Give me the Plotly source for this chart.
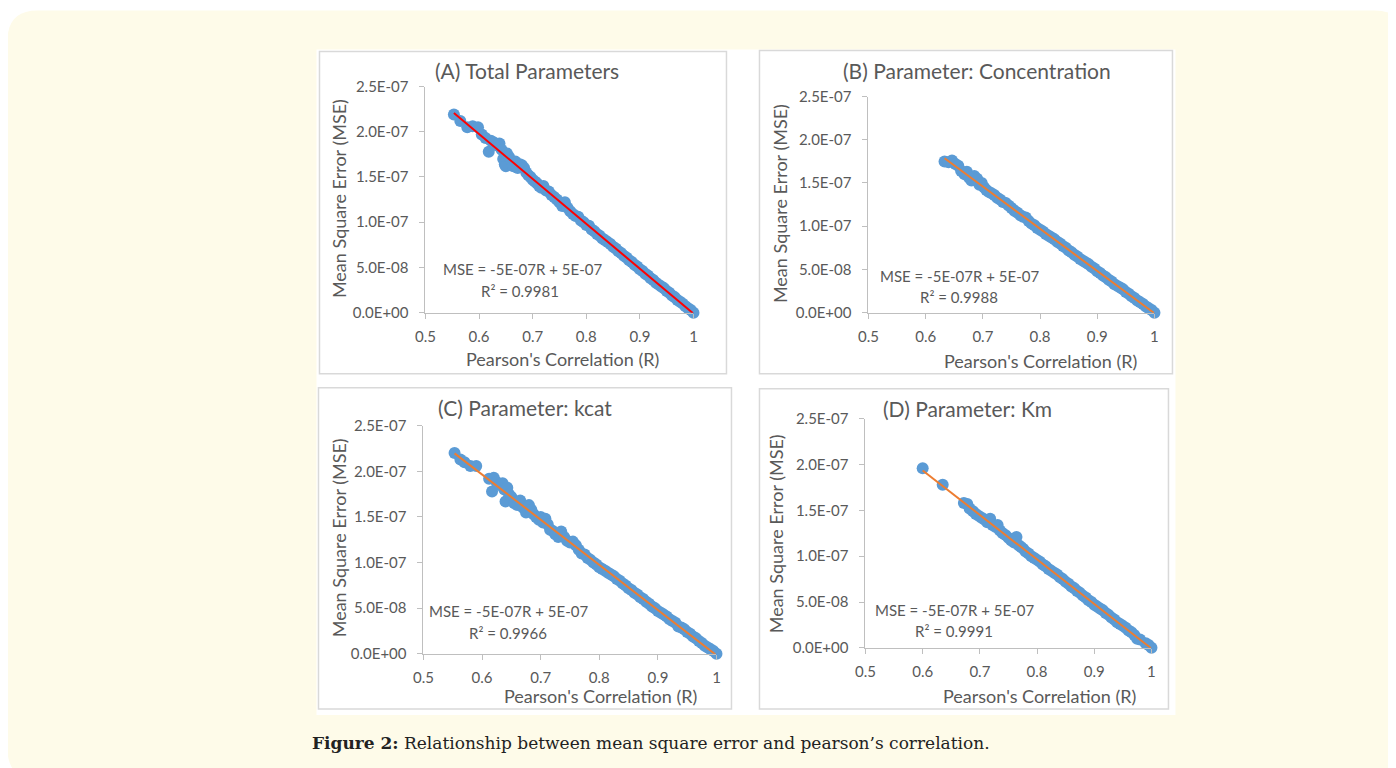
import numpy as np
import plotly.graph_objects as go

W, H = 1396, 768
# measured placement of the figure inside the photographed window (scale and offset)
SX, SY, OFF_X, OFF_Y = 0.99, 0.976, 17.5, 17.5

# ---------------- data (MSE values in units of 1e-7) ----------------
r_a = [0.553, 0.565, 0.578, 0.588, 0.598, 0.605, 0.612, 0.618, 0.622, 0.628, 0.632, 0.638, 0.642, 0.645,
       0.648, 0.650, 0.652, 0.656, 0.660, 0.664, 0.668, 0.672, 0.676, 0.680, 0.684, 0.688, 0.692, 0.696,
       0.700, 0.704, 0.708, 0.712, 0.716, 0.720, 0.725, 0.730, 0.735, 0.740, 0.745, 0.750, 0.755, 0.760,
       0.765, 0.770, 0.775, 0.780, 0.785, 0.790, 0.795, 0.800, 0.805, 0.81, 0.815, 0.82, 0.825, 0.83,
       0.835, 0.84, 0.845, 0.85, 0.855, 0.86, 0.865, 0.87, 0.875, 0.88, 0.885, 0.89, 0.895, 0.90, 0.905,
       0.91, 0.915, 0.92, 0.925, 0.93, 0.935, 0.94, 0.945, 0.95, 0.955, 0.96, 0.965, 0.97, 0.975, 0.98,
       0.985, 0.99, 0.995, 1.00]
mse_a = [2.19, 2.12, 2.05, 2.06, 2.05, 1.97, 1.93, 1.78, 1.90, 1.88, 1.85, 1.87, 1.80, 1.70,
         1.64, 1.62, 1.76, 1.72, 1.68, 1.62, 1.67, 1.60, 1.64, 1.63, 1.60, 1.55, 1.52, 1.50,
         1.47, 1.45, 1.43, 1.40, 1.38, 1.40, 1.35, 1.34, 1.30, 1.28, 1.25, 1.22, 1.18, 1.22,
         1.16, 1.12, 1.09, 1.07, 1.06, 1.02, 1.00, 0.97, 0.96, 0.92, 0.90, 0.87, 0.85, 0.82,
         0.80, 0.78, 0.76, 0.73, 0.71, 0.68, 0.66, 0.63, 0.61, 0.58, 0.56, 0.53, 0.51, 0.48, 0.46,
         0.43, 0.41, 0.38, 0.36, 0.33, 0.31, 0.29, 0.27, 0.24, 0.22, 0.19, 0.17, 0.14, 0.12, 0.10,
         0.07, 0.05, 0.03, 0.00]

r_b = [0.633, 0.640, 0.646, 0.652, 0.657, 0.662, 0.668, 0.672, 0.676, 0.680, 0.685, 0.690, 0.694, 0.698,
       0.702, 0.706, 0.710, 0.715, 0.720, 0.725, 0.730, 0.735, 0.740, 0.745, 0.750, 0.755, 0.760, 0.765,
       0.770, 0.775, 0.780, 0.785, 0.790, 0.795, 0.800, 0.805, 0.81, 0.815, 0.82, 0.825, 0.83, 0.835,
       0.84, 0.845, 0.85, 0.855, 0.86, 0.865, 0.87, 0.875, 0.88, 0.885, 0.89, 0.895, 0.90, 0.905, 0.91,
       0.915, 0.92, 0.925, 0.93, 0.935, 0.94, 0.945, 0.95, 0.955, 0.96, 0.965, 0.97, 0.975, 0.98, 0.985,
       0.99, 0.995, 1.00]
mse_b = [1.75, 1.74, 1.76, 1.72, 1.70, 1.64, 1.60, 1.63, 1.56, 1.53, 1.58, 1.55, 1.48, 1.50,
         1.45, 1.42, 1.40, 1.38, 1.36, 1.33, 1.31, 1.28, 1.27, 1.24, 1.21, 1.18, 1.16, 1.13,
         1.11, 1.10, 1.06, 1.03, 1.01, 0.98, 0.96, 0.94, 0.91, 0.89, 0.87, 0.85, 0.82, 0.80,
         0.77, 0.75, 0.72, 0.70, 0.67, 0.65, 0.62, 0.60, 0.58, 0.56, 0.53, 0.51, 0.48, 0.46, 0.43,
         0.41, 0.38, 0.36, 0.33, 0.31, 0.29, 0.27, 0.24, 0.22, 0.19, 0.17, 0.14, 0.12, 0.10, 0.07,
         0.05, 0.03, 0.00]

r_c = [0.553, 0.563, 0.570, 0.580, 0.590, 0.612, 0.617, 0.620, 0.625, 0.630, 0.635, 0.638, 0.640, 0.643,
       0.646, 0.650, 0.655, 0.660, 0.665, 0.670, 0.675, 0.680, 0.684, 0.688, 0.692, 0.697, 0.700, 0.704,
       0.708, 0.712, 0.716, 0.720, 0.725, 0.730, 0.735, 0.740, 0.745, 0.750, 0.755, 0.760, 0.765, 0.770,
       0.775, 0.78, 0.785, 0.79, 0.795, 0.80, 0.805, 0.81, 0.815, 0.82, 0.825, 0.83, 0.835, 0.84, 0.845,
       0.85, 0.855, 0.86, 0.865, 0.87, 0.875, 0.88, 0.885, 0.89, 0.895, 0.90, 0.905, 0.91, 0.915, 0.92,
       0.925, 0.93, 0.935, 0.94, 0.945, 0.95, 0.955, 0.96, 0.965, 0.97, 0.975, 0.98, 0.985, 0.99, 0.995,
       1.00]
mse_c = [2.20, 2.13, 2.10, 2.06, 2.06, 1.92, 1.78, 1.93, 1.88, 1.85, 1.87, 1.80, 1.67, 1.82,
         1.75, 1.72, 1.65, 1.63, 1.68, 1.60, 1.55, 1.63, 1.58, 1.53, 1.50, 1.47, 1.50, 1.44,
         1.48, 1.42, 1.36, 1.35, 1.31, 1.28, 1.34, 1.28, 1.24, 1.22, 1.23, 1.19, 1.14, 1.10,
         1.09, 1.05, 1.03, 1.00, 0.98, 0.95, 0.93, 0.91, 0.89, 0.87, 0.85, 0.82, 0.80, 0.77, 0.75,
         0.72, 0.70, 0.67, 0.65, 0.62, 0.60, 0.57, 0.55, 0.52, 0.50, 0.47, 0.45, 0.43, 0.41, 0.38,
         0.36, 0.34, 0.30, 0.29, 0.27, 0.24, 0.22, 0.19, 0.17, 0.14, 0.12, 0.09, 0.07, 0.05, 0.03,
         0.00]

r_d = [0.600, 0.635, 0.672, 0.678, 0.682, 0.688, 0.693, 0.698, 0.703, 0.708, 0.713, 0.718, 0.722, 0.727,
       0.731, 0.735, 0.740, 0.745, 0.750, 0.755, 0.760, 0.764, 0.768, 0.772, 0.776, 0.78, 0.785, 0.79,
       0.795, 0.80, 0.805, 0.81, 0.815, 0.82, 0.825, 0.83, 0.835, 0.84, 0.845, 0.85, 0.855, 0.86, 0.865,
       0.87, 0.875, 0.88, 0.885, 0.89, 0.895, 0.90, 0.905, 0.91, 0.915, 0.92, 0.925, 0.93, 0.935, 0.94,
       0.945, 0.95, 0.955, 0.96, 0.965, 0.97, 0.975, 0.98, 0.99, 0.995, 1.00]
mse_d = [1.96, 1.78, 1.58, 1.57, 1.52, 1.49, 1.46, 1.44, 1.42, 1.40, 1.37, 1.41, 1.34, 1.32,
         1.34, 1.28, 1.25, 1.23, 1.20, 1.17, 1.15, 1.21, 1.12, 1.10, 1.08, 1.05, 1.03, 1.00,
         0.98, 0.96, 0.94, 0.91, 0.89, 0.86, 0.84, 0.82, 0.80, 0.77, 0.75, 0.72, 0.70, 0.67, 0.65,
         0.62, 0.60, 0.57, 0.55, 0.52, 0.50, 0.47, 0.45, 0.43, 0.41, 0.38, 0.36, 0.33, 0.31, 0.28,
         0.26, 0.24, 0.22, 0.19, 0.17, 0.14, 0.10, 0.09, 0.05, 0.03, 0.00]

titles = ["(A) Total Parameters", "(B) Parameter: Concentration", "(C) Parameter: kcat", "(D) Parameter: Km"]
equations = ["MSE = -5E-07R + 5E-07"] * 4
r2_labels = ["R² = 0.9981", "R² = 0.9988", "R² = 0.9966", "R² = 0.9991"]
x_tick_vals = [0.5, 0.6, 0.7, 0.8, 0.9, 1.0]
x_tick_text = ["0.5", "0.6", "0.7", "0.8", "0.9", "1"]
y_tick_vals_e7 = [0.0, 0.5, 1.0, 1.5, 2.0, 2.5]
y_tick_text = ["0.0E+00", "5.0E-08", "1.0E-07", "1.5E-07", "2.0E-07", "2.5E-07"]
x_title = "Pearson's Correlation (R)"
y_title = "Mean Square Error (MSE)"
caption_bold = "Figure 2:"
caption_text = " Relationship between mean square error and pearson’s correlation."

series = [(r_a, mse_a), (r_b, mse_b), (r_c, mse_c), (r_d, mse_d)]
line_colors = ["#ff0000", "#ed7d31", "#ed7d31", "#ed7d31"]

# ---------------- layout geometry (target window pixels) ----------------
def fx(px):
    return ((px - OFF_X) / SX) / W

def fy(py):
    return 1 - ((py - OFF_Y) / SY) / H

# plot areas: (x_left, x_right, y_top, y_bottom)
areas = [(425, 693, 86, 312), (868, 1154, 96, 312), (423, 716, 425, 653), (865, 1151, 418, 647)]
borders = [(319, 726, 51, 373), (759, 1172, 50, 373), (318, 731, 387, 708), (759, 1168, 388, 708)]
title_pos = [(527, 70), (977, 70), (525, 407), (967, 408)]
eq_pos = [(522, 268), (959, 275), (508, 610), (954, 609)]
r2_pos = [(520, 290), (959, 296), (508, 632), (954, 630)]
xt_pos = [(562, 358), (1040, 360), (600, 695), (1039, 695)]
yt_pos = [(338, 198), (779, 203), (338, 537), (775, 533)]

text_color = "#595959"
font_family = "Lato"

fig = go.Figure()
layout = dict(
    width=W, height=H, margin=dict(l=0, r=0, t=0, b=0),
    paper_bgcolor="white", plot_bgcolor="rgba(0,0,0,0)",
    showlegend=False, shapes=[], annotations=[],
)

# background shapes
x0, x1, y0, y1, rad = 7, 1404, 10, 778, 30
path = (f"M {fx(x0+rad)},{fy(y0)} L {fx(x1-rad)},{fy(y0)} Q {fx(x1)},{fy(y0)} {fx(x1)},{fy(y0+rad)} "
        f"L {fx(x1)},{fy(y1-rad)} Q {fx(x1)},{fy(y1)} {fx(x1-rad)},{fy(y1)} "
        f"L {fx(x0+rad)},{fy(y1)} Q {fx(x0)},{fy(y1)} {fx(x0)},{fy(y1-rad)} "
        f"L {fx(x0)},{fy(y0+rad)} Q {fx(x0)},{fy(y0)} {fx(x0+rad)},{fy(y0)} Z")
layout["shapes"].append(dict(type="path", path=path, xref="paper", yref="paper",
                             fillcolor="#fefbe9", line=dict(width=0), layer="below"))
layout["shapes"].append(dict(type="rect", xref="paper", yref="paper", x0=fx(316), x1=fx(1175),
                             y0=fy(714), y1=fy(49), fillcolor="white", line=dict(width=0), layer="below"))
for (bx0, bx1, by0, by1) in borders:
    layout["shapes"].append(dict(type="rect", xref="paper", yref="paper", x0=fx(bx0), x1=fx(bx1),
                                 y0=fy(by1), y1=fy(by0), fillcolor="rgba(0,0,0,0)",
                                 line=dict(color="#d9d9d9", width=1.5), layer="below"))

for i, ((rv, mv), (axl, axr, ayt, ayb)) in enumerate(zip(series, areas)):
    k = "" if i == 0 else str(i + 1)
    xa, ya = "x" + k, "y" + k
    r_arr = np.array(rv)
    m_arr = np.array(mv) * 1e-7
    fig.add_trace(go.Scatter(x=r_arr, y=m_arr, mode="markers", xaxis=xa, yaxis=ya,
                             marker=dict(size=12, color="#5b9bd5", line=dict(width=0)),
                             cliponaxis=False, hoverinfo="skip"))
    slope, intercept = np.polyfit(r_arr, m_arr, 1)
    xs = np.array([r_arr.min(), r_arr.max()])
    fig.add_trace(go.Scatter(x=xs, y=slope * xs + intercept, mode="lines", xaxis=xa, yaxis=ya,
                             line=dict(color=line_colors[i], width=2), cliponaxis=False, hoverinfo="skip"))
    layout["xaxis" + k] = dict(
        domain=[fx(axl), fx(axr)], anchor=ya, range=[0.5, 1.0], tickvals=x_tick_vals,
        ticktext=x_tick_text,
        showline=True, linecolor="#bfbfbf", linewidth=1, ticks="outside", ticklen=5,
        tickcolor="#bfbfbf", showgrid=False, zeroline=False,
        tickfont=dict(family=font_family, size=15, color=text_color), ticklabelstandoff=5,
    )
    layout["yaxis" + k] = dict(
        domain=[fy(ayb), fy(ayt)], anchor=xa, range=[0, 2.5e-7],
        tickvals=[v * 1e-7 for v in y_tick_vals_e7], ticktext=y_tick_text,
        showline=True, linecolor="#bfbfbf", linewidth=1, ticks="outside", ticklen=5,
        tickcolor="#bfbfbf", showgrid=False, zeroline=False,
        tickfont=dict(family=font_family, size=15, color=text_color), ticklabelstandoff=8,
    )
    ann = layout["annotations"]
    ann.append(dict(text=titles[i], x=fx(title_pos[i][0]), y=fy(title_pos[i][1]), xref="paper",
                    yref="paper", showarrow=False, xanchor="center", yanchor="middle",
                    font=dict(family=font_family, size=21, color=text_color)))
    ann.append(dict(text=equations[i], x=fx(eq_pos[i][0]), y=fy(eq_pos[i][1]), xref="paper",
                    yref="paper", showarrow=False, xanchor="center", yanchor="middle",
                    font=dict(family=font_family, size=15, color=text_color)))
    ann.append(dict(text=r2_labels[i], x=fx(r2_pos[i][0]), y=fy(r2_pos[i][1]), xref="paper",
                    yref="paper", showarrow=False, xanchor="center", yanchor="middle",
                    font=dict(family=font_family, size=15, color=text_color)))
    ann.append(dict(text=x_title, x=fx(xt_pos[i][0]), y=fy(xt_pos[i][1]), xref="paper",
                    yref="paper", showarrow=False, xanchor="center", yanchor="middle",
                    font=dict(family=font_family, size=18, color=text_color)))
    ann.append(dict(text=y_title, x=fx(yt_pos[i][0]), y=fy(yt_pos[i][1]), xref="paper",
                    yref="paper", showarrow=False, xanchor="center", yanchor="middle", textangle=-90,
                    font=dict(family=font_family, size=18, color=text_color)))

layout["annotations"].append(dict(
    text=f"<b>{caption_bold}</b>{caption_text}", x=fx(310), y=fy(742), xref="paper", yref="paper",
    showarrow=False, xanchor="left", yanchor="middle",
    font=dict(family="DejaVu Serif", size=17, color="#222222")))

fig.update_layout(**layout)
fig.write_html("out.html")
